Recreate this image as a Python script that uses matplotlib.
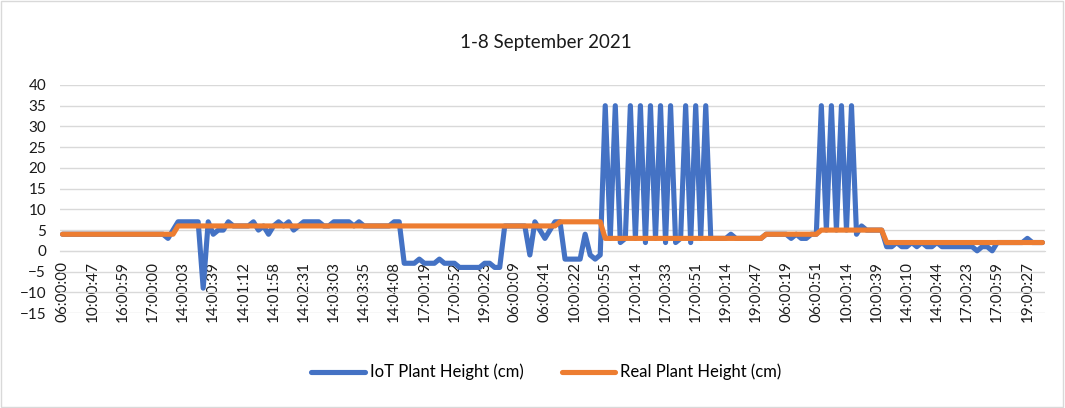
import numpy as np
import matplotlib.pyplot as plt

# tick labels shown every 6th reading
tick_labels = ['06:00:00', '10:00:47', '16:00:59', '17:00:00', '14:00:03', '14:00:39',
               '14:01:12', '14:01:58', '14:02:31', '14:03:03', '14:03:35', '14:04:08',
               '17:00:19', '17:00:52', '19:00:23', '06:00:09', '06:00:41', '10:00:22',
               '10:00:55', '17:00:14', '17:00:33', '17:00:51', '19:00:14', '19:00:47',
               '06:00:19', '06:00:51', '10:00:14', '10:00:39', '14:00:10', '14:00:44',
               '17:00:23', '17:00:59', '19:00:27']

iot_height = [4] * 21 + [3, 5, 7, 7, 7, 7, 7, -9, 7, 4, 5, 5, 7,
              6, 6, 6, 6, 7, 5, 6, 4, 6, 7, 6, 7, 5, 6, 7, 7, 7, 7, 6, 6,
              7, 7, 7, 7, 6, 7, 6, 6, 6, 6, 6, 6, 7, 7,
              -3, -3, -3, -2, -3, -3, -3, -2, -3, -3, -3, -4, -4, -4, -4, -4, -3, -3, -4, -4,
              6, 6, 6, 6, 6, -1, 7, 5, 3, 5, 7, 7, -2, -2, -2, -2, 4, -1, -2, -1,
              35, 3, 35, 2, 3, 35, 3, 35, 2, 35, 3, 35, 2, 35, 2, 3, 35, 2, 35, 3, 35,
              3, 3, 3, 3, 4, 3, 3, 3, 3, 3, 3, 4, 4, 4, 4, 4, 3, 4, 3, 3, 4, 4,
              35, 5, 35, 5, 35, 5, 35, 4, 6, 5, 5, 5, 5,
              1, 1, 2, 1, 1, 2, 1, 2, 1, 1, 2, 1, 1, 1, 1, 1, 1, 1, 0, 1, 1, 0,
              2, 2, 2, 2, 2, 2, 3, 2, 2, 2]

real_height = [4] * 23 + [6] * 76 + [7] * 9 + [3] * 32 + [4] * 11 + [5] * 13 + [2] * 32

plt.rcParams['font.family'] = ['Lato', 'DejaVu Sans']

fig = plt.figure(figsize=(10.65, 4.08), dpi=100)
ax = fig.add_axes([0.0563, 0.2328, 0.9249, 0.5589])

# x axis crosses at 0, labels hang below it (set before ticks, it resets them)
ax.spines['bottom'].set_position(('data', 0))
ax.spines['bottom'].set_color('#D9D9D9')
for s in ['top', 'right', 'left']:
    ax.spines[s].set_visible(False)

x = np.arange(len(iot_height))
ax.plot(x, iot_height, color='#4472C4', lw=3.7, solid_joinstyle='round',
        solid_capstyle='round', label='IoT Plant Height (cm)', zorder=3)
ax.plot(np.arange(len(real_height)), real_height, color='#ED7D31', lw=3.7,
        solid_joinstyle='round', solid_capstyle='round',
        label='Real Plant Height (cm)', zorder=4)

ax.set_xlim(-0.5, len(iot_height) - 0.5)
ax.set_ylim(-15, 40)
ax.set_yticks(range(-15, 41, 5))
ax.set_xticks(range(0, 6 * len(tick_labels), 6))
ax.set_xticklabels(tick_labels)
ax.grid(axis='y', color='#D9D9D9', lw=1)
ax.set_axisbelow(True)
ax.tick_params(axis='x', length=0, pad=7.5, labelsize=11, labelcolor='#1a1a1a',
               labelrotation=90)
ax.tick_params(axis='y', length=0, pad=10, labelsize=11, labelcolor='#1a1a1a')

fig.text(0.513, 0.897, '1-8 September 2021', ha='center', va='center',
         fontsize=13.5, color='#1a1a1a')
fig.legend(loc='center', bbox_to_anchor=(0.513, 0.088), ncol=2, frameon=False,
           fontsize=12, handlelength=3.2, columnspacing=2.3, handletextpad=0.3)

fig.patches.append(plt.Rectangle((0.001, 0.002), 0.997, 0.995, transform=fig.transFigure,
                                 fill=False, edgecolor='#D9D9D9', lw=1))

fig.savefig('out.png')
